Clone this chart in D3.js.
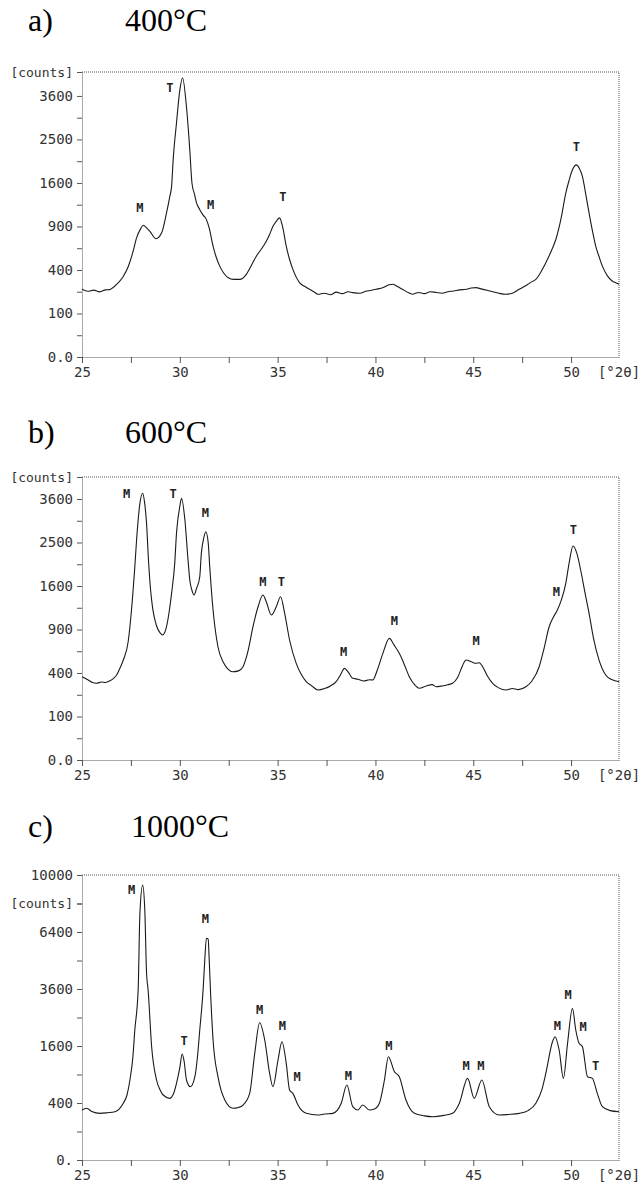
<!DOCTYPE html>
<html>
<head>
<meta charset="utf-8">
<script src="https://cdn.jsdelivr.net/npm/d3@7"></script>
<style>
    body { margin: 0; background: #fff; }
    svg { display: block; }
</style>
</head>
<body>
<svg width="641" height="1184"></svg>
<script>
/////////////////////////////////
// XRD patterns of zirconia calcined at 400, 600 and 1000 °C.
//

// Scan data: [2theta, counts].
const scanA = [
    [25.0, 242], [25.3, 228], [25.6, 236], [25.9, 224], [26.2, 238], [26.4, 240], [26.77, 279],
    [27.1, 340], [27.36, 430], [27.6, 580], [27.79, 750], [28.0, 870], [28.13, 916], [28.3, 880],
    [28.47, 835], [28.78, 738], [29.07, 814], [29.32, 1096], [29.49, 1362], [29.58, 1537],
    [29.66, 2053], [29.83, 2893], [30.0, 3760], [30.14, 4120], [30.34, 3306], [30.51, 2265],
    [30.62, 1600], [30.75, 1400], [30.85, 1260], [31.02, 1147], [31.2, 1060], [31.36, 997],
    [31.5, 880], [31.7, 649], [31.87, 520], [32.04, 436], [32.25, 370], [32.47, 332], [32.75, 318],
    [33.06, 318], [33.4, 361], [33.65, 440], [33.91, 537], [34.15, 610], [34.42, 708], [34.6, 800],
    [34.76, 902], [34.95, 980], [35.1, 1022], [35.25, 900], [35.44, 649], [35.6, 510], [35.78, 405],
    [36.12, 292], [36.4, 262], [36.63, 242], [36.85, 225], [37.06, 208], [37.4, 215], [37.7, 205],
    [38.0, 222], [38.3, 212], [38.6, 225], [38.84, 219], [39.2, 215], [39.5, 228], [39.8, 235],
    [40.03, 242], [40.4, 255], [40.7, 275], [40.88, 279], [41.1, 265], [41.4, 240], [41.7, 218],
    [41.9, 208], [42.2, 220], [42.5, 212], [42.8, 225], [43.1, 220], [43.4, 215], [43.7, 225],
    [44.0, 230], [44.3, 238], [44.63, 242], [44.9, 252], [45.14, 254], [45.4, 245], [45.7, 235],
    [46.0, 225], [46.3, 215], [46.67, 208], [47.0, 215], [47.35, 242], [47.7, 270], [48.0, 300],
    [48.2, 318], [48.45, 380], [48.71, 470], [49.0, 600], [49.22, 729], [49.5, 1030], [49.73, 1420],
    [49.9, 1650], [50.07, 1850], [50.27, 1950], [50.42, 1880], [50.58, 1721], [50.75, 1400],
    [50.92, 1096], [51.1, 830], [51.26, 649], [51.45, 520], [51.6, 436], [51.85, 350], [52.1, 305],
    [52.3, 290], [52.45, 279]
];

const scanB = [
    [25.0, 367], [25.3, 340], [25.5, 320], [25.75, 311], [26.0, 322], [26.2, 318], [26.43, 332],
    [26.6, 350], [26.77, 382], [26.95, 450], [27.11, 528], [27.36, 739], [27.53, 1189], [27.7, 1974],
    [27.79, 2558], [27.96, 3481], [28.1, 3759], [28.2, 3500], [28.3, 2960], [28.4, 2100],
    [28.5, 1550], [28.62, 1200], [28.8, 960], [29.0, 850], [29.12, 826], [29.32, 939], [29.45, 1150],
    [29.58, 1468], [29.74, 2044], [29.83, 2715], [30.0, 3400], [30.09, 3619], [30.26, 3044],
    [30.42, 2114], [30.51, 1712], [30.62, 1520], [30.73, 1439], [30.85, 1550], [31.02, 1775],
    [31.1, 2257], [31.22, 2600], [31.33, 2755], [31.45, 2500], [31.53, 1974], [31.7, 1189],
    [31.95, 678], [32.21, 510], [32.45, 440], [32.72, 412], [33.0, 420], [33.23, 460], [33.5, 640],
    [33.74, 939], [34.0, 1241], [34.25, 1439], [34.42, 1324], [34.68, 1111], [34.93, 1241],
    [35.15, 1409], [35.36, 1137], [35.61, 761], [35.95, 494], [36.2, 390], [36.46, 324],
    [36.75, 290], [37.06, 259], [37.4, 270], [37.7, 290], [37.99, 324], [38.2, 380], [38.42, 444],
    [38.6, 410], [38.84, 353], [39.1, 345], [39.4, 330], [39.7, 340], [39.86, 338], [40.1, 430],
    [40.38, 601], [40.71, 782], [40.95, 700], [41.22, 601], [41.5, 470], [41.73, 367], [42.0, 300],
    [42.24, 272], [42.6, 290], [42.9, 300], [43.1, 284], [43.4, 290], [43.7, 300], [43.94, 311],
    [44.2, 360], [44.45, 470], [44.63, 528], [44.9, 510], [45.14, 494], [45.3, 500], [45.48, 460],
    [45.7, 380], [45.99, 311], [46.3, 275], [46.67, 259], [47.0, 270], [47.3, 262], [47.69, 284],
    [48.0, 330], [48.37, 460], [48.6, 640], [48.88, 939], [49.1, 1080], [49.3, 1189], [49.5, 1350],
    [49.73, 1650], [49.9, 2050], [50.1, 2420], [50.3, 2250], [50.49, 1908], [50.7, 1500],
    [50.92, 1137], [51.15, 780], [51.43, 528], [51.77, 382], [52.1, 340], [52.45, 324]
];

const scanC = [
    [25.0, 308], [25.24, 329], [25.5, 290], [25.92, 268], [26.3, 275], [26.68, 287], [26.9, 320],
    [27.11, 396], [27.3, 520], [27.45, 788], [27.6, 1300], [27.7, 2081], [27.87, 3558],
    [27.96, 7495], [28.1, 9300], [28.21, 7694], [28.3, 4290], [28.38, 3558], [28.56, 1581],
    [28.81, 788], [29.0, 600], [29.15, 520], [29.49, 468], [29.7, 560], [29.83, 724], [30.0, 1050],
    [30.12, 1383], [30.22, 1200], [30.34, 788], [30.54, 661], [30.77, 854], [30.9, 1300],
    [31.02, 2081], [31.19, 3558], [31.28, 5000], [31.36, 6050], [31.45, 6000], [31.5, 5000],
    [31.58, 3300], [31.7, 1773], [31.95, 854], [32.3, 443], [32.72, 329], [33.0, 340], [33.23, 372],
    [33.57, 547], [33.83, 1401], [34.08, 2320], [34.34, 1773], [34.59, 925], [34.76, 661],
    [35.02, 1231], [35.22, 1722], [35.44, 1151], [35.61, 603], [35.78, 547], [36.04, 372],
    [36.46, 268], [37.06, 249], [37.4, 260], [37.82, 268], [38.25, 396], [38.54, 692], [38.84, 350],
    [39.1, 308], [39.35, 372], [39.69, 308], [39.95, 320], [40.2, 396], [40.46, 788], [40.66, 1314],
    [40.97, 960], [41.22, 854], [41.56, 443], [41.99, 268], [42.5, 240], [42.93, 231], [43.5, 245],
    [43.94, 268], [44.29, 396], [44.71, 821], [45.05, 468], [45.44, 788], [45.82, 350], [46.33, 249],
    [46.8, 255], [47.35, 268], [47.8, 300], [48.2, 396], [48.5, 600], [48.71, 925], [49.05, 1722],
    [49.18, 1872], [49.39, 1490], [49.61, 821], [49.82, 1676], [50.07, 2832], [50.24, 2081],
    [50.41, 1676], [50.58, 1581], [50.84, 854], [51.09, 821], [51.34, 547], [51.6, 350],
    [52.0, 300], [52.45, 287]
];

// Phase markers: [phase, 2theta, counts at label].
const peaksA = [
    ["M", 27.96, 1178], ["T", 29.49, 3817], ["M", 31.57, 1226], ["T", 35.27, 1351], ["T", 50.27, 2340]
];
const peaksB = [
    ["M", 27.28, 3759], ["T", 29.66, 3759], ["M", 31.31, 3232], ["M", 34.25, 1680], ["T", 35.19, 1680],
    ["M", 38.37, 620], ["M", 40.97, 1021], ["M", 45.14, 752], ["M", 49.25, 1498], ["T", 50.12, 2796]
];
const peaksC = [
    ["M", 27.54, 8978], ["T", 30.22, 1743], ["M", 31.31, 7192], ["M", 34.08, 2770], ["M", 35.24, 2220],
    ["M", 36.0, 854], ["M", 38.62, 869], ["M", 40.68, 1600], ["M", 44.63, 1088], ["M", 45.39, 1088],
    ["M", 49.3, 2211], ["M", 49.85, 3352], ["M", 50.61, 2169], ["T", 51.26, 1095]
];

// Axes.
const thetaTicks = [25, 30, 35, 40, 45, 50];
const thetaMinor = [27.5, 32.5, 37.5, 42.5, 47.5];
const countTicksAB = [0, 100, 400, 900, 1600, 2500, 3600];
const countLabelsAB = ["0.0", "100", "400", "900", "1600", "2500", "3600"];
const countMinorAB = [25, 225, 625, 1225, 2025, 3025];
const countTicksC = [0, 400, 1600, 3600, 6400, 10000];
const countLabelsC = ["0.", "400", "1600", "3600", "6400", "10000"];
const countMinorC = [100, 900, 2500, 4900, 8100];

const panelLetters = ["a)", "b)", "c)"];
const temperatures = ["400°C", "600°C", "1000°C"];

const svg = d3.select('svg');
const left = 82;
const right = 619;
const monoFont = "'DejaVu Sans Mono', 'Liberation Mono', monospace";

const x = d3.scaleLinear().domain([25, 52.45]).range([left, right]);

const panels = [
    { top: 72, bottom: 357, yMax: 4290, titleY: 31, scan: scanA, peaks: peaksA,
      ticks: countTicksAB, labels: countLabelsAB, minor: countMinorAB, countsAt: 4290 },
    { top: 477, bottom: 760, yMax: 4233, titleY: 443, scan: scanB, peaks: peaksB,
      ticks: countTicksAB, labels: countLabelsAB, minor: countMinorAB, countsAt: 4233 },
    { top: 875, bottom: 1160, yMax: 10000, titleY: 837, scan: scanC, peaks: peaksC,
      ticks: countTicksC, labels: countLabelsC, minor: countMinorC, countsAt: 8100 }
];

panels.forEach((p, i) => {

    const y = d3.scaleSqrt().domain([0, p.yMax]).range([p.bottom, p.top]);
    const g = svg.append('g');

    // Title.
    g.append('text')
        .attr('x', 28).attr('y', p.titleY)
        .style('font-family', "'Liberation Serif', 'Times New Roman', serif")
        .style('font-size', '32px')
        .text(panelLetters[i]);
    g.append('text')
        .attr('x', i === 2 ? 131 : 125).attr('y', p.titleY)
        .style('font-family', "'Liberation Serif', 'Times New Roman', serif")
        .style('font-size', '32px')
        .text(temperatures[i]);

    // Frame: top and right edges.
    g.append('path')
        .attr('d', `M${left},${p.top}H${right}V${p.bottom}`)
        .attr('fill', 'none')
        .attr('stroke', '#555')
        .attr('stroke-dasharray', '1,1');

    // Bottom axis.
    g.append('g')
        .attr('transform', `translate(0,${p.bottom})`)
        .call(d3.axisBottom(x).tickValues(thetaTicks).tickFormat(d3.format('d'))
            .tickSizeInner(6).tickSizeOuter(0).tickPadding(4));
    g.append('g')
        .attr('transform', `translate(0,${p.bottom})`)
        .call(d3.axisBottom(x).tickValues(thetaMinor).tickFormat('')
            .tickSizeInner(6).tickSizeOuter(0))
        .select('.domain').remove();
    g.append('text')
        .attr('x', right).attr('y', p.bottom + 20)
        .attr('text-anchor', 'middle')
        .style('font-family', monoFont)
        .style('font-size', '14px')
        .style('fill', '#333')
        .text('[°2θ]');

    // Left axis.
    g.append('g')
        .attr('transform', `translate(${left},0)`)
        .call(d3.axisLeft(y).tickValues(p.ticks).tickFormat((d, k) => p.labels[k])
            .tickSizeInner(5).tickSizeOuter(0).tickPadding(4));
    g.append('g')
        .attr('transform', `translate(${left},0)`)
        .call(d3.axisLeft(y).tickValues(p.minor.concat([p.countsAt])).tickFormat('')
            .tickSizeInner(5).tickSizeOuter(0))
        .select('.domain').remove();
    g.append('text')
        .attr('x', left - 9).attr('y', y(p.countsAt))
        .attr('dy', '0.35em')
        .attr('text-anchor', 'end')
        .style('font-family', monoFont)
        .style('font-size', '13px')
        .style('fill', '#333')
        .text('[counts]');

    g.selectAll('.domain')
        .attr('stroke', '#555')
        .attr('stroke-dasharray', '1,1');
    g.selectAll('.tick line')
        .attr('stroke', '#555');
    g.selectAll('.tick text')
        .style('font-family', monoFont)
        .style('font-size', '14px')
        .style('fill', '#333');

    // Diffraction pattern.
    const line = d3.line()
        .x((d) => x(d[0]))
        .y((d) => y(d[1]))
        .curve(d3.curveMonotoneX);
    g.append('path')
        .datum(p.scan)
        .attr('d', line)
        .attr('fill', 'none')
        .attr('stroke', '#1a1a1a')
        .attr('stroke-width', 1.1);

    // Phase markers.
    g.selectAll('.peak')
        .data(p.peaks)
        .enter()
        .append('text')
        .attr('class', 'peak')
        .attr('x', (d) => x(d[1]))
        .attr('y', (d) => y(d[2]))
        .attr('dy', '0.35em')
        .attr('text-anchor', 'middle')
        .style('font-family', monoFont)
        .style('font-size', '12px')
        .style('font-weight', 'bold')
        .style('fill', '#222')
        .text((d) => d[0]);
});
</script>
</body>
</html>
